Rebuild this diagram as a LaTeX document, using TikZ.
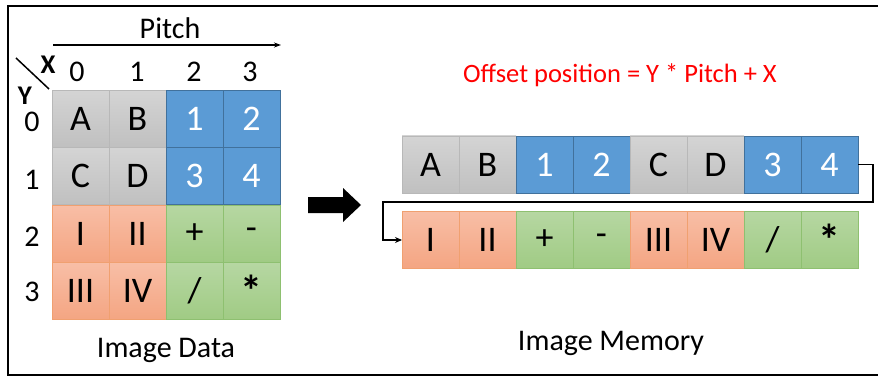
\documentclass[tikz,border=0pt]{standalone}
\usepackage{fontspec}
\setmainfont{Carlito}
\usetikzlibrary{arrows.meta}
\definecolor{grayT}{HTML}{D4D4D4}
\definecolor{grayB}{HTML}{C0C0C0}
\definecolor{grayL}{HTML}{B8B8B8}
\definecolor{blueF}{HTML}{5B9BD5}
\definecolor{blueL}{HTML}{41719C}
\definecolor{orT}{HTML}{F8BEA6}
\definecolor{orB}{HTML}{F4A582}
\definecolor{orL}{HTML}{F0A070}
\definecolor{grT}{HTML}{B6D7A2}
\definecolor{grB}{HTML}{A0CB84}
\definecolor{grL}{HTML}{8EC070}
\definecolor{offred}{HTML}{FF0000}
\newcommand{\bigast}{\raisebox{-5pt}{\fontsize{44}{44}\selectfont\bfseries *}}
\tikzset{
  cell/.style={minimum width=57pt,minimum height=57pt,inner sep=0pt,outer sep=0pt,
    font=\fontsize{36}{36}\selectfont},
  gc/.style={cell,top color=grayT,bottom color=grayB,draw=grayL,line width=0.6pt},
  bc/.style={cell,fill=blueF,draw=blueL,line width=0.6pt,text=white},
  oc/.style={cell,top color=orT,bottom color=orB,draw=orL,line width=0.6pt},
  ec/.style={cell,top color=grT,bottom color=grB,draw=grL,line width=0.6pt},
  lbl/.style={font=\fontsize{30}{30}\selectfont,inner sep=0pt},
  big/.style={font=\fontsize{30}{30}\selectfont,inner sep=0pt},
  axl/.style={font=\fontsize{27}{27}\selectfont\bfseries,inner sep=0pt},
  formula/.style={font=\fontsize{26.5}{26.5}\selectfont,text=offred,inner sep=0pt},
}
\begin{document}
\begin{tikzpicture}[x=1pt,y=-1pt]
\useasboundingbox (0,0) rectangle (878,377);
\draw[line width=2pt] (890,6) -- (8,6) -- (8,375) -- (890,375);
% grid
\node[gc] (g00) at (80.5,118.75) {A};
\node[gc] (g01) at (137.5,118.75) {B};
\node[bc] (g02) at (194.5,118.75) {1};
\node[bc] (g03) at (251.5,118.75) {2};
\node[gc] (g10) at (80.5,176.25) {C};
\node[gc] (g11) at (137.5,176.25) {D};
\node[bc] (g12) at (194.5,176.25) {3};
\node[bc] (g13) at (251.5,176.25) {4};
\node[oc] (g20) at (80.5,233.75) {I};
\node[oc] (g21) at (137.5,233.75) {II};
\node[ec] (g22) at (194.5,233.75) {+};
\node[ec] (g23) at (251.5,233.75) {-};
\node[oc] (g30) at (80.5,291.25) {III};
\node[oc] (g31) at (137.5,291.25) {IV};
\node[ec] (g32) at (194.5,291.25) {/};
\node[ec] (g33) at (251.5,291.25) {\bigast};
% labels
\node[lbl] (c0) at (77,72) {0};
\node[lbl] (c1) at (137,72) {1};
\node[lbl] (c2) at (194,72) {2};
\node[lbl] (c3) at (250,72) {3};
\node[lbl] (r0) at (32,122) {0};
\node[lbl] (r1) at (32,180) {1};
\node[lbl] (r2) at (32,237) {2};
\node[lbl] (r3) at (32,292) {3};
\node[axl] (xl) at (48,65) {X};
\node[axl] (yl) at (25,96) {Y};
\coordinate (d1) at (16,58);
\coordinate (d2) at (49,89);
\draw[line width=1.5pt] (d1) -- (d2);
\node[big] (pitch) at (170,28) {Pitch};
\coordinate (p1) at (53,45);
\coordinate (p2) at (281,45);
\draw[line width=1.3pt,-{Stealth[length=7pt,width=5pt]}] (p1) -- (p2);
\node[big] (idata) at (166,350) {Image Data};
% big arrow
\fill[black] (308,197) -- (343,197) -- (343,188) -- (361,205) -- (343,222) -- (343,213) -- (308,213) -- cycle;
% memory
\node[formula] (off) at (620,75) {Offset position = Y * Pitch + X};
\node[gc] (m0) at (430.5,164.5) {A};
\node[gc] (m1) at (487.5,164.5) {B};
\node[bc] (m2) at (544.5,164.5) {1};
\node[bc] (m3) at (601.5,164.5) {2};
\node[gc] (m4) at (658.5,164.5) {C};
\node[gc] (m5) at (715.5,164.5) {D};
\node[bc] (m6) at (772.5,164.5) {3};
\node[bc] (m7) at (829.5,164.5) {4};
\node[oc] (m8) at (430.5,240) {I};
\node[oc] (m9) at (487.5,240) {II};
\node[ec] (m10) at (544.5,240) {+};
\node[ec] (m11) at (601.5,240) {-};
\node[oc] (m12) at (658.5,240) {III};
\node[oc] (m13) at (715.5,240) {IV};
\node[ec] (m14) at (772.5,240) {/};
\node[ec] (m15) at (829.5,240) {\bigast};
\coordinate (rt) at (873,202);
\coordinate (lt) at (383,202);
\draw[line width=1.5pt,-{Stealth[length=7pt,width=6pt]}] (m7.east) -| (rt) -- (lt) |- (m8.west);
\node[big] (imem) at (611,343) {Image Memory};
\end{tikzpicture}
\end{document}
